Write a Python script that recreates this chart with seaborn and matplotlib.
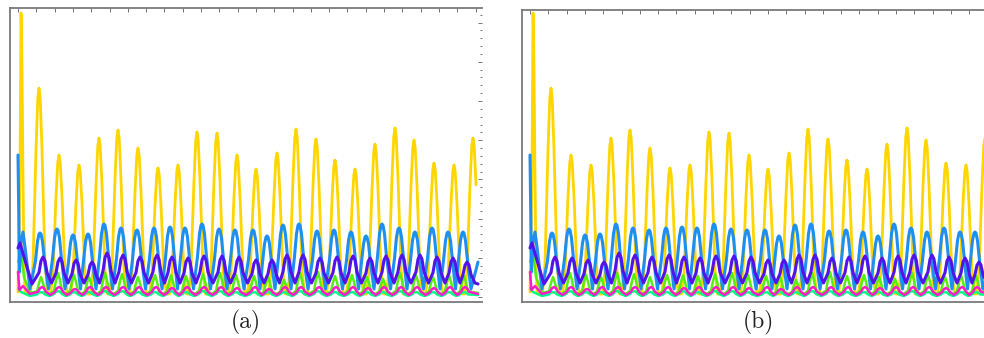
import matplotlib
matplotlib.use("Agg")
import matplotlib.pyplot as plt
import seaborn as sns
from matplotlib.ticker import MultipleLocator

sns.set_theme(style="white")

# ---------------- data ----------------
# time axis: 0 = start of simulation; values in arbitrary units
yellow_start_t = [0, 2, 3, 3.4, 4, 4.8, 5.8, 7]
yellow_start_v = [5, 120, 284, 270, 232, 140, 50, 4]
yellow_peak_t = [21, 41, 61, 81, 100, 120, 140, 160, 179, 199, 219, 238,
                 259, 278, 298, 317, 337, 357, 377, 396, 416, 436, 455]
yellow_peak_v = [209, 142, 132, 159, 167, 149, 129, 132, 165, 164, 142, 128,
                 144, 168, 158, 137, 128, 153, 169, 157, 134, 132, 159]
yellow_base = 3

blue_start_t = [0, 1.5, 3, 5, 7, 12]
blue_start_v = [142, 25, 55, 65, 50, 8]
blue_peak_t = [22, 39, 55, 70, 86, 103, 119, 136, 152, 167, 184, 201, 217,
               235, 249, 265, 281, 299, 316, 333, 348, 364, 381, 397, 414,
               430, 445]
blue_peak_v = [64, 68, 62, 63, 73, 69, 67, 69, 70, 69, 73, 68, 67, 67, 61,
               72, 73, 66, 67, 65, 61, 73, 69, 65, 69, 65, 65]
blue_base = 8
blue_end_t = [453, 460]
blue_end_v = [8, 35]

purple_start_t = [0, 2, 6, 14]
purple_start_v = [49, 54, 40, 13]
purple_peak_t = [25, 42, 58, 74, 89, 105, 122, 139, 154, 170, 186, 204, 221,
                 238, 254, 269, 285, 302, 319, 335, 352, 368, 384, 402, 419,
                 435, 449]
purple_peak_v = [40, 39, 37, 35, 44, 42, 40, 42, 40, 39, 41, 41, 40, 37, 37,
                 42, 42, 39, 40, 41, 39, 41, 42, 42, 40, 39, 35]
purple_base = 14
purple_end_t = [457, 460]
purple_end_v = [14, 13]

lime_start_t = [0, 3, 6, 12]
lime_start_v = [35, 47, 20, 4]
lime_peak_t = [23, 40, 56, 71, 87, 104, 120, 137, 153, 168, 185, 202, 218,
               236, 250, 266, 282, 300, 317, 334, 349, 365, 382, 398, 415,
               431, 446]
lime_peak_v = [20, 24, 22, 20, 24, 23, 20, 22, 22, 21, 23, 24, 22, 21, 20,
               17, 24, 25, 21, 22, 20, 18, 24, 22, 20, 22, 21]
lime_base = 3
lime_end_t = [460]
lime_end_v = [4]

mint_start_t = [0, 3, 12]
mint_start_v = [9, 5, 1]
mint_peak_v = [5, 6, 5, 5, 6, 6, 5, 5, 6, 5, 6, 6, 5, 5, 5, 5, 6, 6, 5, 5,
               5, 5, 6, 5, 5, 5, 5]
mint_base = 1
mint_end_t = [460]
mint_end_v = [2]

magenta_start_t = [0, 1.5, 5, 12]
magenta_start_v = [25, 7, 11, 3]
magenta_peak_t = [24, 41, 57, 72, 88, 105, 121, 138, 154, 169, 186, 203,
                  219, 237, 251, 267, 283, 301, 318, 335, 350, 366, 383, 399,
                  416, 432, 447]
magenta_peak_v = [10, 10, 8, 10, 10, 10, 10, 10, 9, 10, 10, 10, 9, 10, 8,
                  10, 10, 10, 10, 10, 9, 10, 10, 10, 9, 10, 10]
magenta_base = 2
magenta_end_t = [460]
magenta_end_v = [3]

captions = ["(a)", "(b)"]
t_end = 460


def build(start_t, start_v, peak_t, peak_v, base, offs, fracs,
          end_t=(), end_v=()):
    ts, vs = list(start_t), list(start_v)
    for i, (pt, pv) in enumerate(zip(peak_t, peak_v)):
        for o, f in zip(offs, fracs):
            ts.append(pt + o)
            vs.append(base + f * (pv - base))
        if i < len(peak_t) - 1:
            ts.append((pt + peak_t[i + 1]) / 2)
            vs.append(base)
    ts += list(end_t)
    vs += list(end_v)
    keep = [(a, b) for a, b in zip(ts, vs) if a <= t_end]
    return [k[0] for k in keep], [k[1] for k in keep]


spike_off = [-8.5, -6, -3, -1.2, 0, 1.2, 3, 6, 8.5]
spike_frac = [0, 0.15, 0.7, 0.95, 1, 0.95, 0.7, 0.15, 0]
arch_off = [-4.5, -2.5, -1, 0, 1, 2.5, 4.5]
arch_frac = [0.5, 0.85, 0.98, 1, 0.98, 0.85, 0.5]
sine_off = [-4, -2, 0, 2, 4]
sine_frac = [0.4, 0.85, 1, 0.85, 0.4]
sharp_off = [-4, -2, 0, 2, 4]
sharp_frac = [0.15, 0.65, 1, 0.65, 0.15]

series = [
    ("#FFD500", 2.0, build(yellow_start_t, yellow_start_v, yellow_peak_t,
                           yellow_peak_v, yellow_base, spike_off, spike_frac)),
    ("#00FF88", 1.8, build(mint_start_t, mint_start_v, lime_peak_t,
                           mint_peak_v, mint_base, sine_off, sine_frac,
                           mint_end_t, mint_end_v)),
    ("#55EE11", 1.8, build(lime_start_t, lime_start_v, lime_peak_t,
                           lime_peak_v, lime_base, sharp_off, sharp_frac,
                           lime_end_t, lime_end_v)),
    ("#1E8FF0", 2.2, build(blue_start_t, blue_start_v, blue_peak_t,
                           blue_peak_v, blue_base, arch_off, arch_frac,
                           blue_end_t, blue_end_v)),
    ("#5212E8", 2.2, build(purple_start_t, purple_start_v, purple_peak_t,
                           purple_peak_v, purple_base, sine_off, sine_frac,
                           purple_end_t, purple_end_v)),
    ("#FF1ACC", 1.8, build(magenta_start_t, magenta_start_v, magenta_peak_t,
                           magenta_peak_v, magenta_base, sine_off, sine_frac,
                           magenta_end_t, magenta_end_v)),
]

W, H = 984, 338
fig = plt.figure(figsize=(W / 100, H / 100), dpi=100)
fig.patch.set_facecolor("white")

panels = [
    # left px, top px, bottom px, ylim top
    (10, 8, 302, 289),
    (522, 10, 302, 287),
]

for (lpx, tpx, bpx, ytop), cap in zip(panels, captions):
    ax = fig.add_axes([lpx / W, (H - bpx) / H, 472 / W, (bpx - tpx) / H])
    ax.set_facecolor("white")
    for color, lw, (ts, vs) in series:
        sns.lineplot(x=ts, y=vs, ax=ax, color=color, lw=lw, sort=False,
                     estimator=None)
    ax.set_xlim(-8, 464)
    ax.set_ylim(-5, ytop)
    ax.xaxis.set_major_locator(MultipleLocator(18.3))
    ax.yaxis.set_major_locator(MultipleLocator(39.2))
    ax.yaxis.set_minor_locator(MultipleLocator(7.84))
    ax.tick_params(axis="both", which="both", direction="in", colors="#777777",
                   top=True, right=True, labelleft=False, labelbottom=False,
                   width=0.7)
    ax.tick_params(which="major", length=3)
    ax.tick_params(which="minor", length=1.6)
    for side in ["left", "top", "bottom"]:
        ax.spines[side].set_color("#7a7a7a")
        ax.spines[side].set_linewidth(1.3)
    ax.spines["right"].set_visible(False)
    ax.set_xlabel("")
    ax.set_ylabel("")
    ax.grid(False)
    cx = lpx + 236
    fig.text(cx / W, (H - 322) / H, cap, ha="center", va="center",
             fontsize=17, family=["cmr10", "DejaVu Serif"], color="#222222")

fig.savefig("out.png", dpi=100, facecolor="white")
